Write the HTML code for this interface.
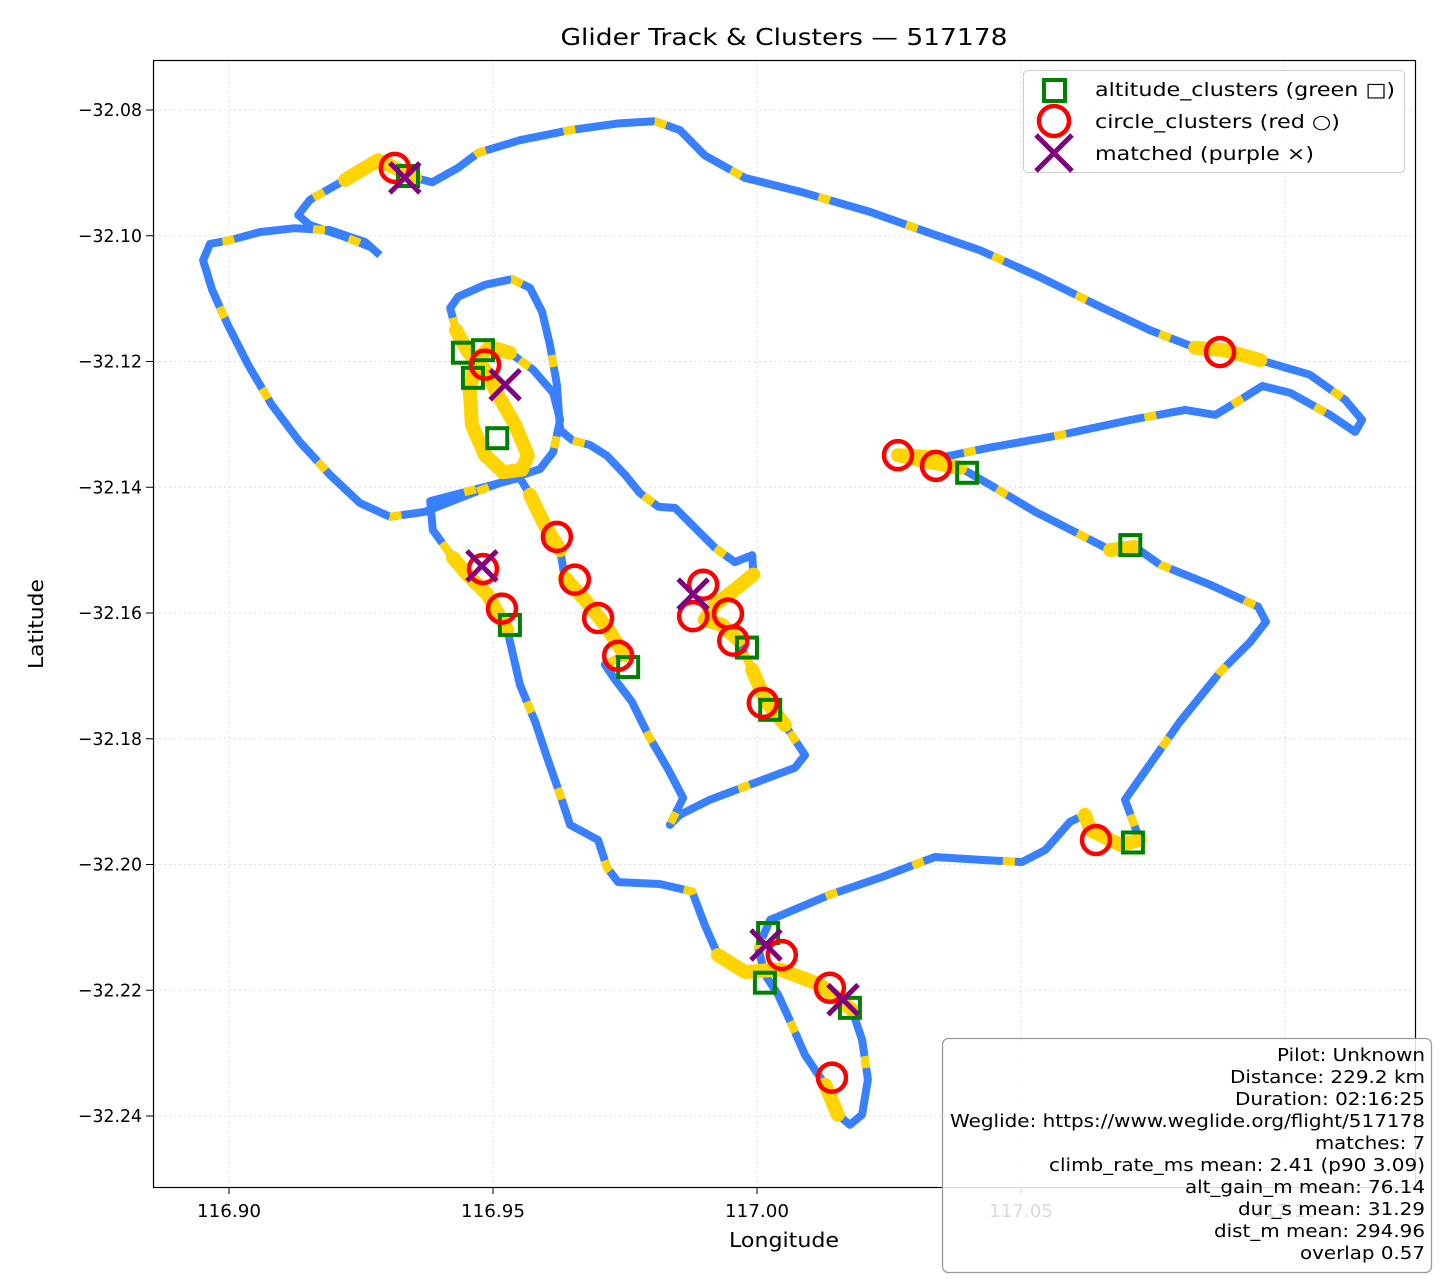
<!DOCTYPE html>
<html><head><meta charset="utf-8">
<style>
html,body{margin:0;padding:0;background:#fff;}
svg{display:block;font-family:"DejaVu Sans","Liberation Sans",sans-serif;}
</style></head>
<body>
<svg id="chart" width="1440" height="1280" viewBox="0 0 1440 1280" xmlns="http://www.w3.org/2000/svg">
<rect x="0" y="0" width="1440" height="1280" fill="#fff"/>
<text x="784" y="45" font-size="23" text-anchor="middle" fill="#000" textLength="447" lengthAdjust="spacingAndGlyphs">Glider Track &amp; Clusters — 517178</text>
<g id="grid"></g>
<g id="track"></g>
<g id="markers"></g>
<rect x="153.5" y="60.5" width="1262" height="1127" fill="none" stroke="#000" stroke-width="1.2"/>
<g id="ticks"></g>
<text x="784" y="1247" font-size="20" text-anchor="middle" textLength="110" lengthAdjust="spacingAndGlyphs">Longitude</text>
<text x="0" y="0" font-size="20" text-anchor="middle" transform="translate(43,624) rotate(-90)" textLength="90" lengthAdjust="spacingAndGlyphs">Latitude</text>
<g>
<rect x="1023.5" y="70.5" width="381" height="102" rx="4" fill="#fff" fill-opacity="0.85" stroke="#ccc"/>
<rect x="1044" y="80" width="21" height="21" fill="none" stroke="#008000" stroke-width="4"/>
<text x="1095" y="96" font-size="19" textLength="300" lengthAdjust="spacingAndGlyphs">altitude_clusters (green □)</text>
<circle cx="1054" cy="121" r="15" fill="none" stroke="#ff0000" stroke-width="4.5"/>
<text x="1095" y="128" font-size="19" textLength="245" lengthAdjust="spacingAndGlyphs">circle_clusters (red ○)</text>
<path d="M1036 135 L1072 171 M1072 135 L1036 171" stroke="#800080" stroke-width="5"/>
<text x="1095" y="160" font-size="19" textLength="219" lengthAdjust="spacingAndGlyphs">matched (purple ×)</text>
</g>
<g>
<rect x="942.5" y="1038.5" width="489" height="234" rx="6" fill="#fff" fill-opacity="0.85" stroke="#999" stroke-width="1.3"/>
<g font-size="18" text-anchor="end" fill="#000">
<text x="1425" y="1061" textLength="148" lengthAdjust="spacingAndGlyphs">Pilot: Unknown</text>
<text x="1425" y="1083" textLength="195" lengthAdjust="spacingAndGlyphs">Distance: 229.2 km</text>
<text x="1425" y="1105" textLength="190" lengthAdjust="spacingAndGlyphs">Duration: 02:16:25</text>
<text x="1425" y="1127" textLength="475" lengthAdjust="spacingAndGlyphs">Weglide: https://www.weglide.org/flight/517178</text>
<text x="1425" y="1149" textLength="110" lengthAdjust="spacingAndGlyphs">matches: 7</text>
<text x="1425" y="1171" textLength="376" lengthAdjust="spacingAndGlyphs">climb_rate_ms mean: 2.41 (p90 3.09)</text>
<text x="1425" y="1193" textLength="240" lengthAdjust="spacingAndGlyphs">alt_gain_m mean: 76.14</text>
<text x="1425" y="1215" textLength="187" lengthAdjust="spacingAndGlyphs">dur_s mean: 31.29</text>
<text x="1425" y="1237" textLength="211" lengthAdjust="spacingAndGlyphs">dist_m mean: 294.96</text>
<text x="1425" y="1259" textLength="125" lengthAdjust="spacingAndGlyphs">overlap 0.57</text>
</g>
</g>
</svg>
<script>
const trackLon=[116.9286,116.9258,116.9191,116.9125,116.9059,116.9002,116.8964,116.8951,116.8968,116.8998,116.9036,116.9081,116.9134,116.9191,116.9248,116.9305,116.9371,116.9456,116.9532,116.9589,116.9614,116.9627,116.9614,116.9576,116.9532,116.9494,116.9468,116.9456,116.9460,116.9485,116.9519,116.9555,116.9566,116.9542,116.9509,116.9485,116.9453,116.9430,116.9419,116.9434,116.9485,116.9536,116.9570,116.9593,116.9608,116.9621,116.9627,116.9650,116.9684,116.9716,116.9750,116.9778,116.9813,116.9845,116.9883,116.9920,116.9958,116.9991,116.9993,116.9958,116.9920,116.9901,116.9934,116.9964,116.9991,117.0015,117.0053,117.0091,117.0072,116.9987,116.9911,116.9854,116.9835,116.9860,116.9832,116.9794,116.9763,116.9731,116.9712,116.9750,116.9712,116.9674,116.9636,116.9627,116.9598,116.9570,116.9551,116.9381,116.9386,116.9424,116.9456,116.9489,116.9527,116.9551,116.9580,116.9602,116.9627,116.9646,116.9699,116.9716,116.9737,116.9816,116.9877,116.9901,116.9926,116.9977,117.0044,117.0119,117.0180,117.0199,117.0210,117.0199,117.0176,117.0153,117.0129,117.0091,117.0066,117.0040,117.0015,117.0002,117.0025,117.0138,117.0233,117.0337,117.0432,117.0502,117.0546,117.0593,117.0621,117.0631,117.0688,117.0725,117.0697,117.0744,117.0801,117.0877,117.0934,117.0964,117.0949,117.0858,117.0763,117.0716,117.0669,117.0602,117.0527,117.0441,117.0385,117.0328,117.0267,117.0347,117.0441,117.0574,117.0707,117.0811,117.0868,117.0915,117.0957,117.1010,117.1085,117.1133,117.1146,117.1114,117.1047,117.0953,117.0886,117.0830,117.0744,117.0650,117.0536,117.0422,117.0328,117.0214,117.0082,116.9977,116.9901,116.9854,116.9807,116.9741,116.9646,116.9551,116.9472,116.9434,116.9385,116.9352,116.9314,116.9282,116.9220,116.9153,116.9131,116.9153,116.9220,116.9271];
const trackLat=[-32.1031,-32.1010,-32.0991,-32.0988,-32.0994,-32.1007,-32.1013,-32.1039,-32.1086,-32.1142,-32.1205,-32.1269,-32.1328,-32.1380,-32.1425,-32.1447,-32.1439,-32.1411,-32.1387,-32.1371,-32.1344,-32.1293,-32.1250,-32.1213,-32.1186,-32.1177,-32.1198,-32.1245,-32.1301,-32.1349,-32.1376,-32.1372,-32.1349,-32.1301,-32.1253,-32.1213,-32.1185,-32.1150,-32.1115,-32.1097,-32.1078,-32.1069,-32.1083,-32.1121,-32.1174,-32.1237,-32.1309,-32.1325,-32.1333,-32.1350,-32.1380,-32.1409,-32.1431,-32.1433,-32.1465,-32.1496,-32.1519,-32.1508,-32.1539,-32.1563,-32.1587,-32.1611,-32.1619,-32.1643,-32.1690,-32.1738,-32.1778,-32.1826,-32.1846,-32.1873,-32.1897,-32.1921,-32.1937,-32.1894,-32.1849,-32.1794,-32.1741,-32.1706,-32.1682,-32.1667,-32.1619,-32.1579,-32.1544,-32.1500,-32.1460,-32.1412,-32.1385,-32.1422,-32.1468,-32.1512,-32.1543,-32.1570,-32.1627,-32.1714,-32.1773,-32.1829,-32.1889,-32.1937,-32.1961,-32.2005,-32.2028,-32.2031,-32.2043,-32.2096,-32.2144,-32.2171,-32.2167,-32.2191,-32.2231,-32.2279,-32.2342,-32.2398,-32.2414,-32.2398,-32.2350,-32.2303,-32.2255,-32.2207,-32.2175,-32.2132,-32.2088,-32.2048,-32.2021,-32.1988,-32.1993,-32.1996,-32.1977,-32.1932,-32.1921,-32.1945,-32.1969,-32.1961,-32.1897,-32.1841,-32.1773,-32.1694,-32.1646,-32.1614,-32.1590,-32.1555,-32.1523,-32.1495,-32.1500,-32.1471,-32.1439,-32.1396,-32.1369,-32.1360,-32.1349,-32.1353,-32.1337,-32.1317,-32.1293,-32.1277,-32.1285,-32.1261,-32.1239,-32.1250,-32.1285,-32.1312,-32.1293,-32.1261,-32.1221,-32.1198,-32.1182,-32.1178,-32.1150,-32.1113,-32.1066,-32.1023,-32.0996,-32.0962,-32.0930,-32.0908,-32.0872,-32.0832,-32.0818,-32.0821,-32.0832,-32.0848,-32.0868,-32.0892,-32.0915,-32.0908,-32.0892,-32.0880,-32.0911,-32.0943,-32.0967,-32.0983,-32.1002,-32.1019];
const clusterStart=[183,24,83,79,89,58,64,146,163,141,128,104,113];
const clusterEnd=[186,37,85,82,92,63,66,149,165,142,131,108,114];
const altLon=[116.9339,116.9443,116.9481,116.9462,116.9508,116.9532,116.9756,116.9981,117.0025,117.0398,117.0707,117.0712,117.0021,117.0015,117.0176];
const altLat=[-32.0905,-32.1186,-32.1182,-32.1226,-32.1322,-32.1619,-32.1686,-32.1655,-32.1754,-32.1377,-32.1492,-32.1965,-32.2109,-32.2188,-32.2228];
const circLon=[116.9314,116.9485,116.9621,116.9481,116.9517,116.9655,116.9699,116.9737,116.9898,116.9879,116.9945,116.9955,117.0011,117.0267,117.0339,117.0877,117.0642,117.0047,117.0138,117.0142];
const circLat=[-32.0892,-32.1205,-32.1479,-32.1530,-32.1593,-32.1547,-32.1608,-32.1668,-32.1555,-32.1605,-32.1601,-32.1644,-32.1743,-32.1349,-32.1366,-32.1185,-32.1961,-32.2144,-32.2196,-32.2339];
const matchLon=[116.9333,116.9523,116.9479,116.9879,117.0017,117.0163];
const matchLat=[-32.0908,-32.1237,-32.1525,-32.1570,-32.2128,-32.2215];
const xTicks=[116.90,116.95,117.00,117.05,117.10];
const xTickLabels=["116.90","116.95","117.00","117.05","117.10"];
const yTicks=[-32.08,-32.10,-32.12,-32.14,-32.16,-32.18,-32.20,-32.22,-32.24];
const yTickLabels=["\u221232.08","\u221232.10","\u221232.12","\u221232.14","\u221232.16","\u221232.18","\u221232.20","\u221232.22","\u221232.24"];

const NS="http://www.w3.org/2000/svg";
function xs(lon){return 229+(lon-116.90)*5280;}
function ys(lat){return 110+(-32.08-lat)*6287.5;}
function mk(tag,attrs,parent){const e=document.createElementNS(NS,tag);for(const k in attrs)e.setAttribute(k,attrs[k]);parent.appendChild(e);return e;}
const grid=document.getElementById('grid'),ticks=document.getElementById('ticks');
xTicks.forEach((v,i)=>{const x=xs(v);
 const g=mk('line',{x1:x,y1:61,x2:x,y2:1187,stroke:'#ddd','stroke-width':1,'stroke-dasharray':'2 3'},grid);
 
 
 if(x<1415){const t=mk('line',{x1:x,y1:1187,x2:x,y2:1194,stroke:'#000','stroke-width':1},ticks);
 
 }
 const l=mk('text',{x:x,y:1217,'font-size':18,'text-anchor':'middle',textLength:64,lengthAdjust:'spacingAndGlyphs'},ticks);l.textContent=xTickLabels[i];
 
 
});
yTicks.forEach((v,i)=>{const y=ys(v);
 const g=mk('line',{x1:154,y1:y,x2:1415,y2:y,stroke:'#ddd','stroke-width':1,'stroke-dasharray':'2 3'},grid);
 
 
 const t=mk('line',{x1:146,y1:y,x2:153,y2:y,stroke:'#000','stroke-width':1},ticks);
 
 
 const l=mk('text',{x:142,y:y+6,'font-size':18,'text-anchor':'end',textLength:64,lengthAdjust:'spacingAndGlyphs'},ticks);l.textContent=yTickLabels[i];
 
 
});
const tr=document.getElementById('track');
const pts=trackLon.map((v,i)=>xs(v).toFixed(1)+','+ys(trackLat[i]).toFixed(1)).join(' ');
const base=mk('polyline',{points:pts,fill:'none',stroke:'#3880ff','stroke-width':8,'stroke-linejoin':'round'},tr);


const dash=mk('polyline',{points:pts,fill:'none',stroke:'#ffd400','stroke-width':8,'stroke-dasharray':'12 80','stroke-dashoffset':30},tr);


clusterStart.forEach((s,k)=>{const e=clusterEnd[k];const p=[];for(let i=s;i<=e;i++)p.push(xs(trackLon[i]).toFixed(1)+','+ys(trackLat[i]).toFixed(1));
 const c=mk('polyline',{points:p.join(' '),fill:'none',stroke:'#ffd400','stroke-width':14,'stroke-linejoin':'round','stroke-linecap':'round'},tr);
 
 
});
const mg=document.getElementById('markers');
altLon.forEach((v,i)=>{const x=xs(v),y=ys(altLat[i]);
 const r=mk('rect',{x:x-10,y:y-10,width:20,height:20,fill:'none',stroke:'#008000','stroke-width':4},mg);
 
 
});
circLon.forEach((v,i)=>{const x=xs(v),y=ys(circLat[i]);
 const c=mk('circle',{cx:x,cy:y,r:14,fill:'none',stroke:'#ff0000','stroke-width':4.5},mg);
 
 
});
matchLon.forEach((v,i)=>{const x=xs(v),y=ys(matchLat[i]);
 const p=mk('path',{d:`M${x-15} ${y-15} L${x+15} ${y+15} M${x+15} ${y-15} L${x-15} ${y+15}`,stroke:'#800080','stroke-width':5},mg);
 
 
});
</script>
</body></html>
